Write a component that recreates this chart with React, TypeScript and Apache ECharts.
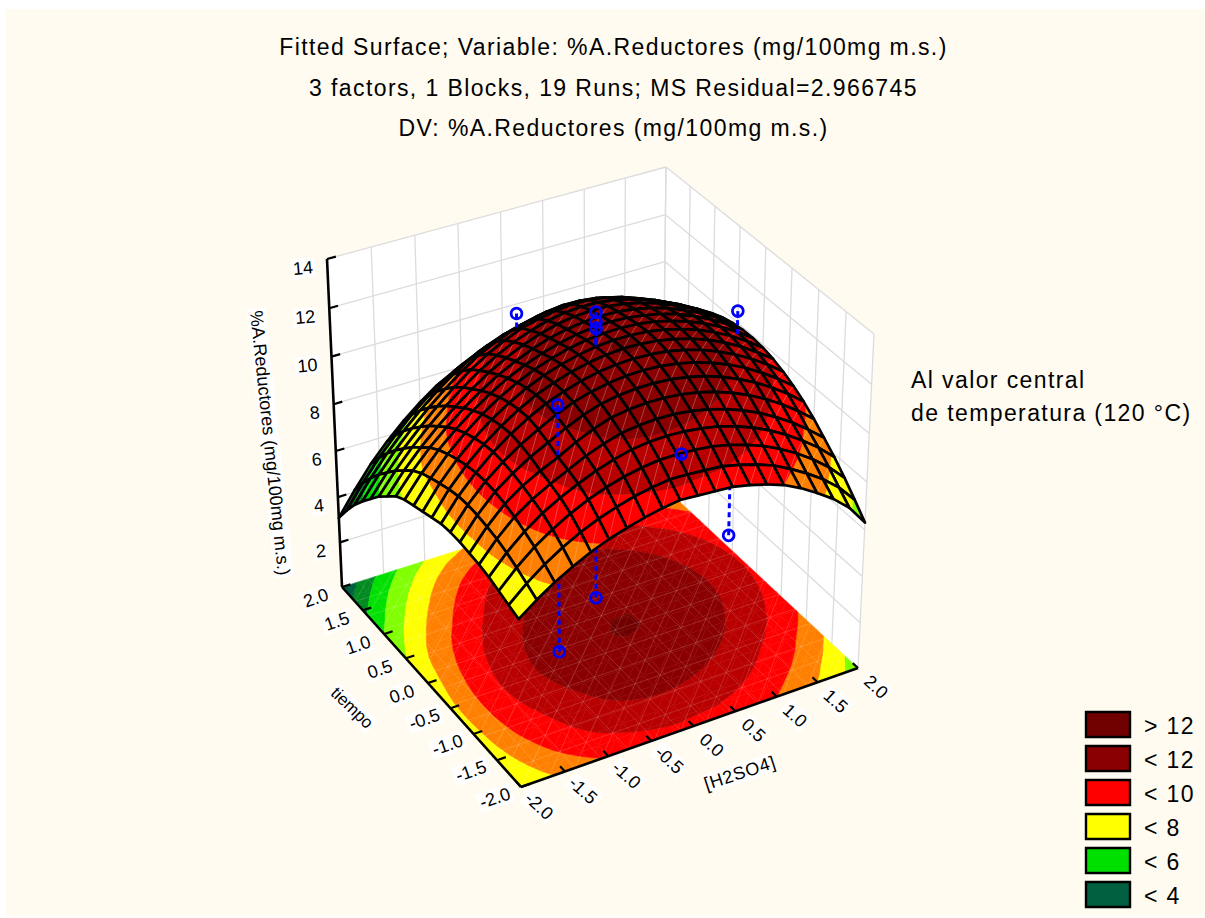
import React, { useEffect, useRef } from "react";
import * as echarts from "echarts";

const titleLines = [
  "Fitted Surface; Variable: %A.Reductores (mg/100mg m.s.)",
  "3 factors, 1 Blocks, 19 Runs; MS Residual=2.966745",
  "DV: %A.Reductores (mg/100mg m.s.)",
];
const noteLines = ["Al valor central", "de temperatura (120 °C)"];
const xAxisName = "[H2SO4]";
const yAxisName = "tiempo";
const zAxisName = "%A.Reductores (mg/100mg m.s.)";

const planTicks = [-2, -1.5, -1, -0.5, 0, 0.5, 1, 1.5, 2];
const planLabels = ["-2.0", "-1.5", "-1.0", "-0.5", "0.0", "0.5", "1.0", "1.5", "2.0"];
const zTicks = [2, 4, 6, 8, 10, 12, 14];
const zMinimum = 0;
const zMaximum = 14;

const legendLabels = ["> 12", "< 12", "< 10", "< 8", "< 6", "< 4"];
const legendColors = ["#700000", "#8a0000", "#ff0000", "#ffff00", "#00e000", "#006040"];

const bandLevels = [4, 5, 6, 7, 8, 9, 10, 11, 12];
const bandColors = ["#006040", "#008a20", "#00e000", "#80ff00", "#ffff00", "#ff8000", "#ff0000", "#b80000", "#8a0000", "#700000"];

const gridSteps = [-2, -1.8, -1.6, -1.4, -1.2, -1, -0.8, -0.6, -0.4, -0.2, 0, 0.2, 0.4, 0.6, 0.8, 1, 1.2, 1.4, 1.6, 1.8, 2];
const floorMeshSteps = [-2, -1.69, -1.38, -1.08, -0.77, -0.46, -0.15, 0.15, 0.46, 0.77, 1.08, 1.38, 1.69, 2];

// rows: tiempo from -2 to 2; columns: [H2SO4] from -2 to 2
const surfaceZ = [
  [7.05, 7.59, 8.06, 8.46, 8.81, 9.09, 9.31, 9.5, 9.65, 9.75, 9.7, 9.65, 9.6, 9.45, 9.25, 9.0, 8.65, 8.22, 7.75, 7.15, 6.3],
  [7.2, 7.83, 8.37, 8.82, 9.2, 9.51, 9.75, 9.95, 10.09, 10.18, 10.16, 10.1, 10.04, 9.88, 9.67, 9.41, 9.05, 8.64, 8.17, 7.6, 6.86],
  [7.35, 8.06, 8.66, 9.14, 9.55, 9.88, 10.15, 10.35, 10.49, 10.58, 10.58, 10.54, 10.46, 10.3, 10.09, 9.82, 9.48, 9.08, 8.61, 8.06, 7.39],
  [7.5, 8.26, 8.88, 9.39, 9.79, 10.12, 10.42, 10.65, 10.83, 10.92, 10.94, 10.9, 10.81, 10.67, 10.46, 10.19, 9.86, 9.46, 9.01, 8.49, 7.87],
  [7.6, 8.41, 9.07, 9.56, 9.95, 10.29, 10.63, 10.9, 11.11, 11.2, 11.24, 11.22, 11.13, 10.99, 10.78, 10.52, 10.2, 9.81, 9.37, 8.86, 8.3],
  [7.65, 8.5, 9.2, 9.7, 10.09, 10.41, 10.8, 11.11, 11.35, 11.46, 11.51, 11.5, 11.43, 11.3, 11.11, 10.86, 10.55, 10.18, 9.75, 9.26, 8.71],
  [7.7, 8.57, 9.29, 9.82, 10.26, 10.62, 10.99, 11.3, 11.53, 11.66, 11.72, 11.72, 11.67, 11.55, 11.38, 11.14, 10.84, 10.49, 10.07, 9.6, 9.06],
  [7.7, 8.59, 9.32, 9.89, 10.37, 10.77, 11.14, 11.43, 11.64, 11.78, 11.86, 11.88, 11.84, 11.73, 11.57, 11.35, 11.07, 10.73, 10.32, 9.86, 9.34],
  [7.65, 8.55, 9.29, 9.91, 10.43, 10.86, 11.22, 11.49, 11.71, 11.86, 11.95, 11.98, 11.95, 11.87, 11.72, 11.51, 11.24, 10.91, 10.53, 10.08, 9.57],
  [7.5, 8.44, 9.2, 9.84, 10.37, 10.82, 11.2, 11.48, 11.71, 11.87, 11.98, 12.03, 12.01, 11.94, 11.8, 11.61, 11.36, 11.04, 10.67, 10.23, 9.74],
  [7.35, 8.29, 9.06, 9.71, 10.26, 10.72, 11.11, 11.41, 11.65, 11.83, 11.95, 12.01, 12.01, 11.95, 11.83, 11.65, 11.41, 11.11, 10.75, 10.33, 9.85],
  [7.2, 8.12, 8.89, 9.54, 10.1, 10.57, 10.96, 11.28, 11.53, 11.73, 11.86, 11.93, 11.95, 11.9, 11.8, 11.63, 11.4, 11.12, 10.77, 10.37, 9.9],
  [7.05, 7.93, 8.68, 9.31, 9.87, 10.36, 10.77, 11.1, 11.37, 11.58, 11.73, 11.82, 11.85, 11.81, 11.71, 11.56, 11.35, 11.07, 10.73, 10.34, 9.89],
  [6.8, 7.65, 8.39, 9.03, 9.6, 10.1, 10.54, 10.89, 11.2, 11.43, 11.59, 11.69, 11.73, 11.71, 11.61, 11.46, 11.24, 10.96, 10.64, 10.26, 9.82],
  [6.4, 7.27, 8.02, 8.68, 9.27, 9.8, 10.28, 10.67, 11.0, 11.25, 11.44, 11.56, 11.6, 11.58, 11.48, 11.32, 11.1, 10.82, 10.5, 10.12, 9.7],
  [6.0, 6.87, 7.64, 8.32, 8.94, 9.5, 9.99, 10.41, 10.76, 11.03, 11.23, 11.36, 11.41, 11.39, 11.29, 11.12, 10.89, 10.61, 10.29, 9.92, 9.51],
  [5.5, 6.4, 7.2, 7.9, 8.55, 9.13, 9.66, 10.11, 10.47, 10.76, 10.95, 11.09, 11.16, 11.14, 11.04, 10.86, 10.61, 10.33, 10.01, 9.66, 9.26],
  [5.0, 5.92, 6.74, 7.45, 8.11, 8.7, 9.24, 9.69, 10.04, 10.33, 10.53, 10.69, 10.77, 10.75, 10.67, 10.5, 10.27, 10.0, 9.68, 9.34, 8.96],
  [4.45, 5.38, 6.22, 6.96, 7.62, 8.21, 8.73, 9.16, 9.52, 9.79, 9.98, 10.15, 10.24, 10.26, 10.19, 10.04, 9.83, 9.58, 9.3, 8.97, 8.6],
  [3.8, 4.77, 5.64, 6.39, 7.06, 7.64, 8.15, 8.55, 8.89, 9.14, 9.33, 9.52, 9.62, 9.66, 9.61, 9.5, 9.33, 9.1, 8.84, 8.52, 8.17],
  [3.09, 4.09, 5.0, 5.76, 6.43, 7.01, 7.51, 7.89, 8.21, 8.45, 8.62, 8.82, 8.95, 9.01, 8.99, 8.91, 8.76, 8.56, 8.32, 8.03, 7.69],
];

// observed runs: [H2SO4], tiempo, %A.Reductores
const runX = [0, 0, 0, 0, -1, -1, 1, 0, 0, 1.68];
const runY = [0, 0, 0, 0, -1, -1, -1, 1.68, -1.68, 0];
const runZ = [13.35, 12.95, 12.7, 1.3, 12.5, 2.3, 4.9, 10.33, 10.75, 11.7];

// camera calibration: box corners [x, y, z] -> page pixel
const calibration = [
  [-2, -2, 0, 521, 787],
  [2, -2, 0, 858, 668],
  [-2, 2, 0, 342, 587],
  [-2, 2, 14, 327, 259],
  [2, 2, 14, 666, 167],
  [2, -2, 14, 874, 334],
];

function solveCamera(points: number[][]) {
  const rows: number[][] = [];
  const rhs: number[] = [];
  for (const [x, y, z, u, v] of points) {
    rows.push([x, y, z, 1, 0, 0, 0, 0, -u * x, -u * y, -u * z]);
    rhs.push(u);
    rows.push([0, 0, 0, 0, x, y, z, 1, -v * x, -v * y, -v * z]);
    rhs.push(v);
  }
  const n = 11;
  const m: number[][] = [];
  for (let i = 0; i < n; i++) {
    const row = new Array(n + 1).fill(0);
    for (let j = 0; j < n; j++) for (let k = 0; k < rows.length; k++) row[j] += rows[k][i] * rows[k][j];
    for (let k = 0; k < rows.length; k++) row[n] += rows[k][i] * rhs[k];
    m.push(row);
  }
  for (let c = 0; c < n; c++) {
    let p = c;
    for (let r = c + 1; r < n; r++) if (Math.abs(m[r][c]) > Math.abs(m[p][c])) p = r;
    [m[c], m[p]] = [m[p], m[c]];
    for (let r = 0; r < n; r++) {
      if (r === c) continue;
      const f = m[r][c] / m[c][c];
      for (let k = c; k <= n; k++) m[r][k] -= f * m[c][k];
    }
  }
  return m.map((r, i) => r[n] / r[i]);
}
const cam = solveCamera(calibration);

function project(x: number, y: number, z: number): number[] {
  const w = cam[8] * x + cam[9] * y + cam[10] * z + 1;
  return [(cam[0] * x + cam[1] * y + cam[2] * z + cam[3]) / w, (cam[4] * x + cam[5] * y + cam[6] * z + cam[7]) / w];
}

function surfaceAt(x: number, y: number) {
  const n = gridSteps.length - 1;
  const fx = ((x + 2) / 4) * n;
  const fy = ((y + 2) / 4) * n;
  const i = Math.min(n - 1, Math.floor(fx));
  const j = Math.min(n - 1, Math.floor(fy));
  const a = fx - i;
  const b = fy - j;
  return (
    surfaceZ[j][i] * (1 - a) * (1 - b) +
    surfaceZ[j][i + 1] * a * (1 - b) +
    surfaceZ[j + 1][i] * (1 - a) * b +
    surfaceZ[j + 1][i + 1] * a * b
  );
}

type P3 = number[];
function clipZ(poly: P3[], level: number, keepAbove: boolean): P3[] {
  const out: P3[] = [];
  for (let k = 0; k < poly.length; k++) {
    const a = poly[k];
    const b = poly[(k + 1) % poly.length];
    const ina = keepAbove ? a[2] >= level : a[2] <= level;
    const inb = keepAbove ? b[2] >= level : b[2] <= level;
    if (ina) out.push(a);
    if (ina !== inb) {
      const t = (level - a[2]) / (b[2] - a[2]);
      out.push([a[0] + t * (b[0] - a[0]), a[1] + t * (b[1] - a[1]), level]);
    }
  }
  return out;
}

function bandPolygons(tri: P3[]) {
  const res: { poly: P3[]; color: string }[] = [];
  for (let b = 0; b < bandColors.length; b++) {
    let poly = tri;
    if (b > 0) poly = clipZ(poly, bandLevels[b - 1], true);
    if (poly.length >= 3 && b < bandLevels.length) poly = clipZ(poly, bandLevels[b], false);
    if (poly.length >= 3) res.push({ poly, color: bandColors[b] });
  }
  return res;
}

const FONT = "Liberation Sans";
const rad = (d: number) => (d * Math.PI) / 180;

function textEl(text: string, x: number, y: number, size: number, rotationDeg = 0, align = "center", bg?: string) {
  return {
    type: "text",
    x,
    y,
    rotation: rad(rotationDeg),
    style: {
      text,
      fontFamily: FONT,
      fontSize: size,
      fill: "#000",
      align,
      verticalAlign: "middle",
      ...(bg ? { backgroundColor: bg, padding: [1, 2, 0, 2] } : {}),
    },
  };
}

function layer(z: number, items: any[], build: (item: any, api: any) => any) {
  return {
    type: "custom",
    coordinateSystem: "cartesian2d",
    z,
    silent: true,
    clip: false,
    data: items.map((_: any, k: number) => [k, 0]),
    renderItem: (params: any, api: any) => build(items[params.dataIndex], api),
  };
}

function buildOption() {
  const px = (api: any, x: number, y: number, z: number) => api.coord(project(x, y, z));
  const pts3 = (api: any, poly: P3[], zFlat?: number) => poly.map((p) => px(api, p[0], p[1], zFlat === undefined ? p[2] : zFlat));

  const cells: number[][] = [];
  const n = gridSteps.length - 1;
  for (let j = n - 1; j >= 0; j--) for (let i = n - 1; i >= 0; i--) cells.push([i, j]);

  const vertex = (i: number, j: number): P3 => [gridSteps[i], gridSteps[j], surfaceZ[j][i]];
  const triangles = ([i, j]: number[]) => [
    [vertex(i, j), vertex(i + 1, j), vertex(i + 1, j + 1)],
    [vertex(i, j), vertex(i + 1, j + 1), vertex(i, j + 1)],
  ];

  const lowerRuns: number[] = [];
  const upperRuns: number[] = [];
  runX.forEach((x, k) => (runZ[k] < surfaceAt(x, runY[k]) ? lowerRuns : upperRuns).push(k));

  const runEl = (k: number, api: any) => {
    const a = px(api, runX[k], runY[k], runZ[k]);
    const b = px(api, runX[k], runY[k], surfaceAt(runX[k], runY[k]));
    return {
      type: "group",
      children: [
        { type: "line", shape: { x1: a[0], y1: a[1], x2: b[0], y2: b[1] }, style: { stroke: "#0000ff", lineWidth: 3, lineDash: [5, 4] } },
        { type: "circle", shape: { cx: a[0], cy: a[1], r: 5.4 }, style: { fill: "none", stroke: "#0000ff", lineWidth: 2.7 } },
      ],
    };
  };

  const line = (a: number[], b: number[], stroke: string, lineWidth: number) => ({
    type: "line",
    shape: { x1: a[0], y1: a[1], x2: b[0], y2: b[1] },
    style: { stroke, lineWidth },
  });

  const series = [
    layer(0, [0], (_i, api) => {
      const a = api.coord([6, 9]);
      const b = api.coord([1205, 916]);
      return { type: "rect", shape: { x: a[0], y: a[1], width: b[0] - a[0], height: b[1] - a[1] }, style: { fill: "#fffbf0" } };
    }),
    // back walls
    layer(1, [0], (_i, api) => {
      const gridColor = "#dcdcdc";
      const ch: any[] = [];
      const C = [-2, 2];
      const D = [2, 2];
      const B = [2, -2];
      ch.push({ type: "polygon", shape: { points: [px(api, C[0], C[1], zMinimum), px(api, D[0], D[1], zMinimum), px(api, D[0], D[1], zMaximum), px(api, C[0], C[1], zMaximum)] }, style: { fill: "#fff" } });
      ch.push({ type: "polygon", shape: { points: [px(api, B[0], B[1], zMinimum), px(api, D[0], D[1], zMinimum), px(api, D[0], D[1], zMaximum), px(api, B[0], B[1], zMaximum)] }, style: { fill: "#fff" } });
      for (const t of planTicks) {
        ch.push(line(px(api, t, 2, zMinimum), px(api, t, 2, zMaximum), gridColor, 1.3));
        ch.push(line(px(api, 2, t, zMinimum), px(api, 2, t, zMaximum), gridColor, 1.3));
      }
      for (const z of zTicks) {
        ch.push(line(px(api, -2, 2, z), px(api, 2, 2, z), gridColor, 1.3));
        ch.push(line(px(api, 2, 2, z), px(api, 2, -2, z), gridColor, 1.3));
      }
      return { type: "group", children: ch };
    }),
    // floor contours
    layer(2, cells, (cell, api) => {
      const ch: any[] = [];
      for (const tri of triangles(cell)) {
        for (const { poly, color } of bandPolygons(tri)) {
          ch.push({ type: "polygon", shape: { points: pts3(api, poly, zMinimum) }, style: { fill: color, stroke: color, lineWidth: 0.5 } });
        }
      }
      return { type: "group", children: ch };
    }),
    // floor triangle mesh
    layer(3, [0], (_i, api) => {
      const ch: any[] = [];
      const c = "rgba(255,255,255,0.22)";
      floorMeshSteps.forEach((s, k) => {
        ch.push(line(px(api, s, -2, zMinimum), px(api, s, 2, zMinimum), c, 0.7));
        ch.push(line(px(api, -2, s, zMinimum), px(api, 2, s, zMinimum), c, 0.7));
        if (k < floorMeshSteps.length - 1) {
          for (let m = 0; m < floorMeshSteps.length - 1; m++) {
            ch.push(line(px(api, s, floorMeshSteps[m], zMinimum), px(api, floorMeshSteps[k + 1], floorMeshSteps[m + 1], zMinimum), c, 0.7));
          }
        }
      });
      return { type: "group", children: ch };
    }),
    layer(4, lowerRuns, (k, api) => runEl(k, api)),
    // fitted surface, back to front
    layer(5, cells, (cell, api) => {
      const ch: any[] = [];
      const [i, j] = cell;
      for (const tri of triangles(cell)) {
        for (const { poly, color } of bandPolygons(tri)) {
          ch.push({ type: "polygon", shape: { points: pts3(api, poly) }, style: { fill: color, stroke: color, lineWidth: 0.5 } });
        }
      }
      const a = vertex(i, j);
      const b = vertex(i + 1, j);
      const c = vertex(i + 1, j + 1);
      const d = vertex(i, j + 1);
      ch.push(line(px(api, a[0], a[1], a[2]), px(api, c[0], c[1], c[2]), "rgba(255,255,255,0.3)", 0.7));
      ch.push({
        type: "polygon",
        shape: { points: pts3(api, [a, b, c, d]) },
        style: { fill: "none", stroke: "#000", lineWidth: 2.7, lineJoin: "round" },
      });
      return { type: "group", children: ch };
    }),
    layer(6, upperRuns, (k, api) => runEl(k, api)),
    // axes
    layer(7, [0], (_i, api) => {
      const ch: any[] = [];
      const ax = "#000";
      ch.push(line(px(api, -2, 2, zMinimum), px(api, -2, 2, zMaximum), ax, 2.6));
      ch.push(line(px(api, -2, 2, zMinimum), px(api, -2, -2, zMinimum), ax, 2.6));
      ch.push(line(px(api, -2, -2, zMinimum), px(api, 2, -2, zMinimum), ax, 2.6));
      for (const t of planTicks) {
        ch.push(line(px(api, -2, t, zMinimum), px(api, -1.9, t, zMinimum), ax, 2.2));
        ch.push(line(px(api, t, -2, zMinimum), px(api, t, -1.9, zMinimum), ax, 2.2));
      }
      for (const z of zTicks) ch.push(line(px(api, -2, 2, z), px(api, -1.9, 2, z), ax, 2.2));
      return { type: "group", children: ch };
    }),
    // tick labels and axis names
    layer(8, [0], (_i, api) => {
      const ch: any[] = [];
      planTicks.forEach((t, k) => {
        const a = px(api, -2, t, zMinimum);
        ch.push(textEl(planLabels[k], a[0] - 26, a[1] + 11, 18, 19, "center", "#fff"));
        const b = px(api, t, -2, zMinimum);
        ch.push(textEl(planLabels[k], b[0] + 18, b[1] + 19, 18, -42, "center", "#fff"));
      });
      zTicks.forEach((z) => {
        const a = px(api, -2, 2, z);
        ch.push(textEl(String(z), a[0] - 12, a[1] + 8, 18, 5, "right", "#fff"));
      });
      ch.push(textEl(zAxisName, 270, 443, 18, -84, "center", "#fff"));
      ch.push(textEl(yAxisName, 352, 708, 17, -44, "center", "#fff"));
      ch.push(textEl(xAxisName, 740, 773, 18, 18, "center", "#fff"));
      return { type: "group", children: ch };
    }),
    // title, note, legend
    layer(9, [0], (_i, api) => {
      const ch: any[] = [];
      const ys = [47, 88, 128];
      titleLines.forEach((t, k) => ch.push(textEl(t, 613.5, ys[k], 23)));
      noteLines.forEach((t, k) => ch.push(textEl(t, 911, [380, 413][k], 23, 0, "left")));
      legendLabels.forEach((t, k) => {
        const top = 712 + k * 34;
        const a = api.coord([1086, top]);
        ch.push({ type: "rect", shape: { x: a[0], y: a[1], width: 44, height: 25 }, style: { fill: legendColors[k], stroke: "#000", lineWidth: 2.4 } });
        ch.push(textEl(t, 1144, top + 14, 23, 0, "left"));
      });
      return { type: "group", children: ch };
    }),
  ];

  return {
    animation: false,
    grid: { left: 0, top: 0, right: 0, bottom: 0, containLabel: false },
    xAxis: { type: "value", min: 0, max: 1205, show: false },
    yAxis: { type: "value", min: 0, max: 918, inverse: true, show: false },
    series,
  };
}

export default function App() {
  const ref = useRef<HTMLDivElement>(null);
  useEffect(() => {
    document.body.style.margin = "0";
    const el = ref.current as HTMLDivElement;
    const chart = echarts.init(el, undefined, { renderer: "svg" });
    chart.setOption(buildOption() as any);
    const spaced = new Set([...titleLines, ...noteLines, ...legendLabels]);
    el.querySelectorAll("text").forEach((t: any) => {
      if (spaced.has(t.textContent)) t.style.letterSpacing = "1.4px";
      if (t.textContent === xAxisName) t.style.letterSpacing = "0.8px";
    });
    return () => chart.dispose();
  }, []);
  return <div ref={ref} style={{ width: 1205, height: 918, position: "absolute", left: 0, top: 0, background: "#fff" }} />;
}
